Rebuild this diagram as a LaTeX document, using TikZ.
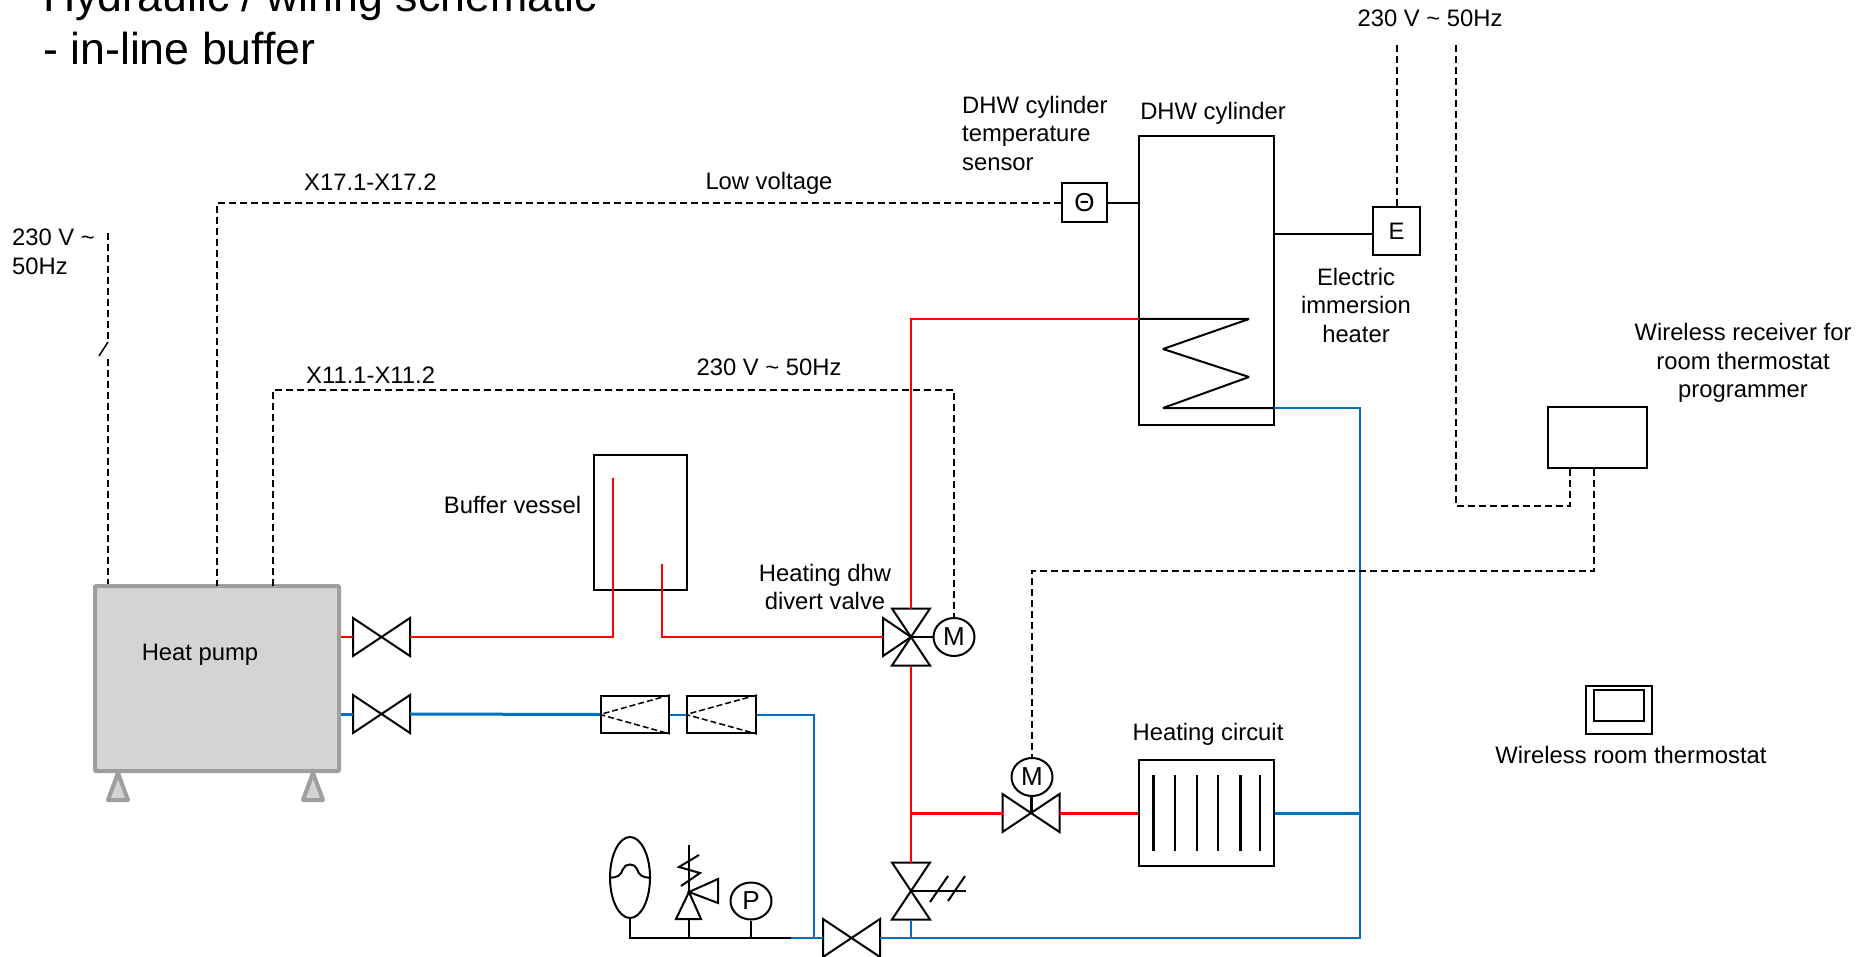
\documentclass[tikz,border=0pt]{standalone}
\usepackage{fontspec}
\setmainfont{Liberation Sans}
\usepackage{xcolor}
\usetikzlibrary{shapes.geometric}
\definecolor{hotred}{rgb}{1,0,0}
\definecolor{coldblue}{rgb}{0,0.44,0.75}
\definecolor{pumpgray}{rgb}{0.83,0.83,0.83}
\definecolor{edgegray}{rgb}{0.62,0.62,0.62}

\begin{document}
\begin{tikzpicture}[x=1pt,y=-1pt,line join=miter,
font=\fontsize{23.8}{28.5}\selectfont,
txt/.style={inner sep=0pt,align=center},
box/.style={draw,line width=2pt,inner sep=0pt,fill=white},
gauge/.style={ellipse,draw,line width=2pt,inner sep=0pt,minimum width=41pt,minimum height=38pt,font=\fontsize{26}{28}\selectfont},
pumpbox/.style={draw=edgegray,fill=pumpgray,line width=4pt,rounded corners=1pt,minimum width=244pt,minimum height=185pt},
leg/.style={draw=edgegray,fill=pumpgray,line width=4pt,line join=round},
sym/.style={draw,line width=2pt},
hotpipe/.style={draw=hotred,line width=2.2pt},
coldpipe/.style={draw=coldblue,line width=2pt},
thickpipe/.style={line width=3pt},
wire/.style={draw,line width=2pt,dash pattern=on 7pt off 4pt},
thinwire/.style={draw,line width=1.5pt,dash pattern=on 7pt off 4pt},
blackpipe/.style={draw,line width=2.5pt},
bowtie/.pic={\draw[sym] (-28.5,-19) -- (28.5,19) -- (28.5,-19) -- (-28.5,19) -- cycle;
\coordinate (-c) at (0,0); \coordinate (-w) at (-28.5,0); \coordinate (-e) at (28.5,0);}]
\useasboundingbox (0,0) rectangle (1867,957);

% title
\node[txt,anchor=base west,font=\fontsize{44.7}{53}\selectfont] (title) at (43,12) {Hydraulic / wiring schematic};
\node[txt,anchor=base west,font=\fontsize{44.7}{53}\selectfont] (subtitle) at (43,65) {- in-line buffer};

% boxes
\node[pumpbox] (heatpump) at (217,678.5) {};
\node[txt] (heatpumplabel) at (200,654.5) {Heat pump};
\draw[leg] (118,773) -- (128,800) -- (108,800) -- cycle;
\draw[leg] (313,773) -- (323,800) -- (303,800) -- cycle;
\node[box,minimum width=93pt,minimum height=135pt] (buffer) at (640.5,522.5) {};
\node[box,minimum width=135pt,minimum height=289pt] (cylinder) at (1206.5,280.5) {};
\node[box,minimum width=45pt,minimum height=39pt,font=\fontsize{26}{28}\selectfont] (sensor) at (1084.5,203) {Θ};
\node[box,minimum width=47pt,minimum height=48pt] (immersion) at (1396.5,231) {E};
\node[box,minimum width=99pt,minimum height=61pt] (receiver) at (1597.5,437.5) {};
\node[box,minimum width=135pt,minimum height=106pt] (radiator) at (1206.5,813) {};
\node[box,minimum width=68pt,minimum height=37pt] (checkA) at (635,714.5) {};
\node[box,minimum width=69pt,minimum height=37pt] (checkB) at (721.5,714.5) {};
\node[box,minimum width=66pt,minimum height=48pt] (stat) at (1619,710) {};
\node[box,minimum width=50pt,minimum height=31pt] (statface) at (1619,705.5) {};

% check valve insides
\foreach \name in {checkA,checkB} {
\draw[draw,line width=1.5pt,dash pattern=on 6pt off 3pt] (\name.east |- \name.north) -- (\name.west) -- (\name.east |- \name.south);
}
% radiator bars
\foreach \barx/\barw in {1153/3,1175/2,1197/2,1218/2,1240/3,1260/2} {
\draw[line width=\barw pt] (\barx,775) -- (\barx,851);
}

% valves
\pic (valvehot) at (381.5,637) {bowtie};
\pic (valvecold) at (381.5,714) {bowtie};
\pic (valvemix) at (1031,813) {bowtie};
\pic (valvereturn) at (851.5,938) {bowtie};
\pic[rotate=90] (valvedivert) at (911,637) {bowtie};
\draw[sym] (valvedivert-c) -- (883,618) -- (883,656) -- cycle;
\pic[rotate=90] (valvedrain) at (911,891) {bowtie};
\node[gauge] (motordivert) at (954,637) {M};
\node[gauge] (motormix) at (1032,777) {M};
\draw[line width=3pt] (motormix.south -| valvemix-c) -- (valvemix-c);
\draw[sym] (valvedivert-c) -- (motordivert.west);
\coordinate (drainend) at (966,891);
\draw[sym] (valvedrain-c) -- (drainend);
\draw[sym] (930,902) -- (948,876);
\draw[sym] (948,901) -- (965,876);

% expansion vessel, safety valve, gauge
\node[ellipse,draw,line width=2pt,inner sep=0pt,minimum width=40pt,minimum height=81pt] (expansion) at (630,877.5) {};
\draw[sym] (expansion.west) .. controls (618,878) and (621,875) .. (623,869) .. controls (625,863) and (635,863) .. (637,869) .. controls (639,875) and (642,878) .. (expansion.east);
\draw[sym] (689,845) -- (689,892);
\draw[sym] (699,855) -- (679,867) -- (700,873) -- (681,886);
\draw[sym] (689,892) -- (718,879) -- (718,903) -- cycle;
\draw[sym] (689,892) -- (701,919) -- (676,919) -- cycle;
\coordinate (safetyfoot) at (689,919);
\node[gauge,minimum height=37pt] (pgauge) at (751,901) {P};
\coordinate (fillcorner) at (630,938);
\coordinate (filljoin) at (791,938);
\draw[blackpipe] (expansion.south) -- (fillcorner) -- (filljoin);
\draw[blackpipe] (safetyfoot) -- (safetyfoot |- filljoin);
\draw[blackpipe] (pgauge.south) -- (pgauge.south |- filljoin);

% heating flow
\coordinate (bufferin) at (613,478);
\coordinate (bufferout) at (662,564);
\coordinate (flowcorner) at (911,319);
\coordinate (returncorner) at (1360,408);
\coordinate (coilin) at (1139,319);
\coordinate (coilout) at (1274,408);
\draw[hotpipe] (heatpump.east |- valvehot-w) -- (valvehot-w);
\draw[hotpipe] (valvehot-e) -| (bufferin);
\draw[hotpipe] (bufferout) |- (883,637);
\draw[hotpipe] (coilin) -- (flowcorner) -- (valvedivert-e);
\draw[hotpipe] (valvedivert-w) -- (valvedrain-e);
\draw[hotpipe,thickpipe] (valvedivert-w |- valvemix-w) -- (valvemix-w);
\draw[hotpipe,thickpipe] (valvemix-e) -- (radiator.west);

% heating return
\coordinate (checkdown) at (814,938);
\draw[coldpipe,thickpipe] (heatpump.east |- valvecold-w) -- (valvecold-w);
\draw[coldpipe,thickpipe] (valvecold-e) -- (checkA.west);
\draw[coldpipe] (checkA.east) -- (checkB.west);
\draw[coldpipe] (checkB.east) -| (checkdown);
\draw[coldpipe] (filljoin) -- (valvereturn-w);
\draw[coldpipe] (valvereturn-e) -| (returncorner) -- (coilout);
\draw[coldpipe] (valvedrain-w) -- (valvedrain-w |- valvereturn-e);
\draw[coldpipe,thickpipe] (radiator.east) -- (radiator.east -| returncorner);

% cylinder coil and sensor stems
\draw[blackpipe,line width=2pt,line join=bevel] (coilin) -- (1249,319) -- (1163,349) -- (1249,377) -- (1163,408) -- (coilout);
\draw[sym] (sensor.east) -- (sensor.east -| cylinder.west);
\draw[sym] ([yshift=-3pt]immersion.west) -- ([yshift=-3pt]immersion.west -| cylinder.east);

% wiring
\coordinate (mainsleft) at (108,233);
\coordinate (switchtop) at (108,342);
\coordinate (switchend) at (99,356);
\coordinate (switchlow) at (108,359);
\coordinate (mainsE) at (1397,45);
\coordinate (mainsR) at (1456,45);
\coordinate (mainsRc) at (1570,506);
\coordinate (x17drop) at (217,586);
\coordinate (x11corner) at (273,390);
\coordinate (x11drop) at (273,586);
\coordinate (statcorner) at (1594,571);
\coordinate (motorcorner) at (1032,571);
\draw[thinwire] (mainsleft) -- (switchtop);
\draw[line width=1.5pt] (switchtop) -- (switchend);
\draw[thinwire] (switchlow) -- (switchlow |- heatpump.north);
\draw[wire] (sensor.west) -| (x17drop);
\draw[wire] (x11drop) -- (x11corner) -| (motordivert.north);
\draw[wire] (mainsE) -- (immersion.north -| mainsE);
\draw[wire] (mainsR) |- (mainsRc) -- (mainsRc |- receiver.south);
\draw[wire] (receiver.south -| statcorner) -- (statcorner) -- (motorcorner) -- (motormix.north);

% labels
\node[txt,anchor=base] (mainstop) at (1430,27) {230 V \textasciitilde{} 50Hz};
\node[txt,align=left,anchor=west] (mainslabel) at (12,252) {230 V \textasciitilde\\50Hz};
\node[txt,anchor=base west] (x17label) at (304,191) {X17.1-X17.2};
\node[txt,anchor=base west] (x11label) at (306,383) {X11.1-X11.2};
\node[txt,anchor=base] (lowvolt) at (769,190) {Low voltage};
\node[txt,anchor=base] (divertmains) at (769,375) {230 V \textasciitilde{} 50Hz};
\node[txt,align=left,anchor=west] (sensorlabel) at (962,133) {DHW cylinder\\temperature\\sensor};
\node[txt,anchor=base] (cylinderlabel) at (1213,120) {DHW cylinder};
\node[txt] (immersionlabel) at (1356,305) {Electric\\immersion\\heater};
\node[txt] (receiverlabel) at (1743,363) {Wireless receiver for\\room thermostat\\programmer};
\node[txt,anchor=base] (bufferlabel) at (512.5,513) {Buffer vessel};
\node[txt] (divertlabel) at (825,587) {Heating dhw\\divert valve};
\node[txt,anchor=base] (radiatorlabel) at (1208,740) {Heating circuit};
\node[txt,anchor=base] (statlabel) at (1631,763) {Wireless room thermostat};
\end{tikzpicture}
\end{document}
